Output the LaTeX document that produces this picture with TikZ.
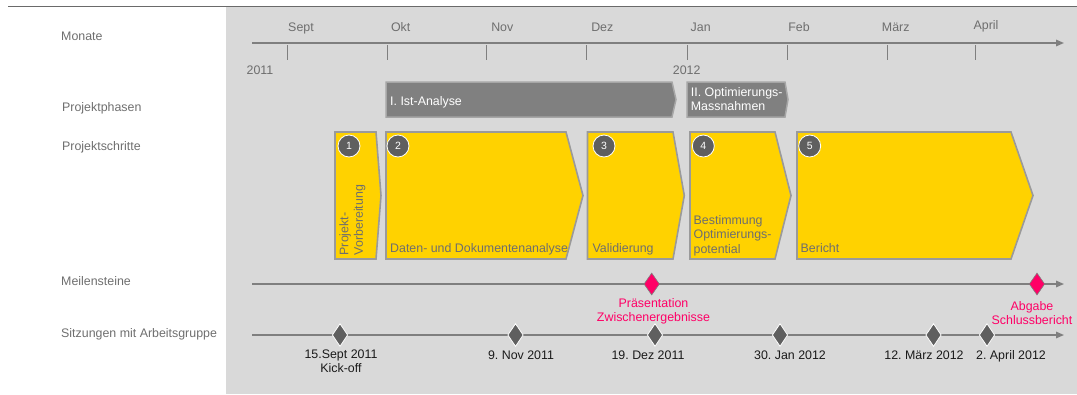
\documentclass[tikz,border=0pt]{standalone}
\usepackage{fontspec}
\setmainfont{Liberation Sans}
\usetikzlibrary{shapes.geometric,arrows.meta}
\frenchspacing
\definecolor{bggray}{HTML}{D9D9D9}
\definecolor{axisgray}{HTML}{7F7F7F}
\definecolor{topline}{HTML}{6A6A6A}
\definecolor{txtgray}{HTML}{6E6E6E}
\definecolor{stepyellow}{HTML}{FFD200}
\definecolor{stepborder}{HTML}{9A9A9A}
\definecolor{phasegray}{HTML}{808080}
\definecolor{phaseborder}{HTML}{A6A6A6}
\definecolor{darkdot}{HTML}{5F5F5F}
\definecolor{msPink}{HTML}{FF0066}
\definecolor{datetxt}{HTML}{1A1A1A}
\begin{document}
\begin{tikzpicture}[x=1pt,y=-1pt,
  font=\fontsize{12.4}{14.4}\selectfont,
  rowlabel/.style={anchor=base west,text=txtgray,inner sep=0},
  month/.style={anchor=base,text=txtgray,inner sep=0},
  axisline/.style={draw=axisgray,line width=1.5pt,-{Triangle[length=8pt,width=6.5pt]}},
  tickline/.style={draw=axisgray,line width=1pt},
  phaseshape/.style={fill=phasegray,draw=phaseborder,line width=1.5pt},
  phaselabel/.style={text=white,inner sep=0,align=left},
  stepshape/.style={fill=stepyellow,draw=stepborder,line width=1.6pt},
  numdot/.style={circle,fill=darkdot,draw=white,line width=0.8pt,minimum size=22pt,inner sep=0,text=white,font=\fontsize{10.5}{12}\selectfont},
  steplabel/.style={text=txtgray,inner sep=0,align=left},
  milestone/.style={diamond,fill=msPink,draw=axisgray,line width=0.6pt,minimum width=15.5pt,minimum height=22pt,inner sep=0},
  meeting/.style={diamond,fill=darkdot,draw=white,line width=0.8pt,minimum width=15.5pt,minimum height=23pt,inner sep=0},
  pinklabel/.style={text=msPink,align=center,inner sep=0},
  datelabel/.style={text=datetxt,align=center,inner sep=0}]
\useasboundingbox (0,0) rectangle (1077,394);
% background
\fill[bggray] (226,7) rectangle (1077,394);
\coordinate (tl1) at (8,6);
\coordinate (tl2) at (1077,6);
\draw[topline,line width=1pt] (tl1) -- (tl2);

% row labels
\node[rowlabel] (lMonate) at (61,40) {Monate};
\node[rowlabel] (lPhasen) at (62,111) {Projektphasen};
\node[rowlabel] (lSchritte) at (62,150.4) {Projektschritte};
\node[rowlabel] (lMeilen) at (61,285) {Meilensteine};
\node[rowlabel] (lSitz) at (61,337.7) {Sitzungen mit Arbeitsgruppe};

% month axis
\coordinate (ma1) at (252,43);
\coordinate (ma2) at (1064,43);
\draw[axisline] (ma1) -- (ma2);
\foreach \t [count=\i] in {287,387,486.5,586.5,687,787,887,975}{
  \coordinate (tk\i a) at (\t,45);
  \coordinate (tk\i b) at (\t,60);
  \draw[tickline] (tk\i a) -- (tk\i b);
}
\node[month] (mSep) at (301,31) {Sept};
\node[month] (mOkt) at (400.7,31) {Okt};
\node[month] (mNov) at (502.3,31) {Nov};
\node[month] (mDez) at (602.3,31) {Dez};
\node[month] (mJan) at (700.7,31) {Jan};
\node[month] (mFeb) at (799,31) {Feb};
\node[month] (mMar) at (895.7,31) {März};
\node[month] (mApr) at (986,29.5) {April};
\node[month] (y11) at (260,74.4) {2011};
\node[month] (y12) at (686.7,74.4) {2012};

% phases
\path[phaseshape] (386,82) -- (672,82) -- (676,99.5) -- (672,117) -- (386,117) -- cycle;
\path[phaseshape] (687,82) -- (785,82) -- (788,99.5) -- (785,117) -- (687,117) -- cycle;
\node[phaselabel,anchor=base west] (ph1) at (390,105) {I. Ist-Analyse};
\node[phaselabel,anchor=west] (ph2) at (690.7,99) {II. Optimierungs-\\Massnahmen};

% steps
\path[stepshape] (335,132) -- (376,132) -- (381,195.5) -- (376,259) -- (335,259) -- cycle;
\path[stepshape] (386,132) -- (566,132) -- (583,195.5) -- (566,259) -- (386,259) -- cycle;
\path[stepshape] (587.5,132) -- (673,132) -- (684.3,195.5) -- (673,259) -- (587.5,259) -- cycle;
\path[stepshape] (690,132) -- (775,132) -- (791,195.5) -- (775,259) -- (690,259) -- cycle;
\path[stepshape] (797,132) -- (1011,132) -- (1033,195.5) -- (1011,259) -- (797,259) -- cycle;

\node[numdot] (n1) at (349,146) {1};
\node[numdot] (n2) at (398,146) {2};
\node[numdot] (n3) at (604,146) {3};
\node[numdot] (n4) at (703.3,146) {4};
\node[numdot] (n5) at (809.7,146) {5};

\node[steplabel,rotate=90,anchor=west] (s1) at (352.4,255.5) {Projekt-\\Vorbereitung};
\node[steplabel,anchor=base west] (s2) at (390,252.9) {Daten- und Dokumentenanalyse};
\node[steplabel,anchor=base west] (s3) at (592.3,252.9) {Validierung};
\node[steplabel,anchor=west] (s4) at (693.5,235.5) {Bestimmung\\Optimierungs-\\potential};
\node[steplabel,anchor=base west] (s5) at (800.5,252.9) {Bericht};

% milestones
\coordinate (ml1) at (252,284);
\coordinate (ml2) at (1064,284);
\draw[axisline] (ml1) -- (ml2);
\node[milestone] (ms1) at (651.7,284) {};
\node[milestone] (ms2) at (1037,284) {};
\node[pinklabel] (pl1) at (653.5,311.5) {Präsentation\\Zwischenergebnisse};
\node[pinklabel] (pl2) at (1032,313) {Abgabe\\Schlussbericht};

% meetings
\coordinate (mt1) at (252,335);
\coordinate (mt2) at (1064,335);
\draw[axisline] (mt1) -- (mt2);
\node[meeting] (d1) at (340,335) {};
\node[meeting] (d2) at (515.5,335) {};
\node[meeting] (d3) at (655,335) {};
\node[meeting] (d4) at (780,335) {};
\node[meeting] (d5) at (933.5,335) {};
\node[meeting] (d6) at (987,335) {};
\node[datelabel,anchor=base] (t1) at (341,372.6) {15.Sept 2011\\Kick-off};
\node[datelabel,anchor=base] (t2) at (521,359) {9. Nov 2011};
\node[datelabel,anchor=base] (t3) at (648,359) {19. Dez 2011};
\node[datelabel,anchor=base] (t4) at (790,359) {30. Jan 2012};
\node[datelabel,anchor=base] (t5) at (924,359) {12. März 2012};
\node[datelabel,anchor=base] (t6) at (1011,359) {2. April 2012};
\end{tikzpicture}
\end{document}
